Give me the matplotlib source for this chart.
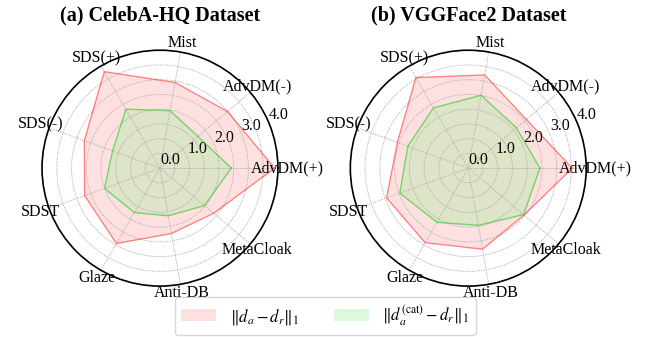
import numpy as np
import matplotlib
matplotlib.use('Agg')
import matplotlib.pyplot as plt

plt.rcParams['font.family'] = ['Liberation Serif', 'DejaVu Serif']
plt.rcParams['mathtext.fontset'] = 'stix'

#categories, counter-clockwise from 0 deg
labels = ['AdvDM(+)', 'AdvDM(-)', 'Mist', 'SDS(+)', 'SDS(-)', 'SDST', 'Glaze', 'Anti-DB', 'MetaCloak']

#(a) CelebA-HQ
celeba_full = [3.89, 2.99, 2.95, 3.78, 2.73, 2.72, 2.95, 2.25, 2.38]
celeba_cat = [2.42, 1.68, 1.98, 2.31, 1.71, 2.00, 1.74, 1.64, 1.97]

#(b) VGGFace2
vgg_full = [3.53, 2.57, 3.21, 3.55, 2.56, 2.95, 2.92, 2.79, 2.47]
vgg_cat = [2.43, 2.13, 2.51, 2.36, 2.18, 2.47, 2.12, 1.97, 2.45]

titles = ['(a) CelebA-HQ Dataset', '(b) VGGFace2 Dataset']
leg_labels = [r'$\|d_a - d_r\|_1$', r'$\|d_a^{(\mathrm{cat})} - d_r\|_1$']

r_ticks = np.arange(0, 4.01, 0.5)

angles = np.linspace(0, 2*np.pi, len(labels), endpoint=False)
ang_c = np.concatenate([angles, angles[:1]])

fig = plt.figure(figsize=(6.45, 3.37), dpi=100)
rects = [[0.065, 0.151, 0.366, 0.700], [0.543, 0.151, 0.366, 0.700]]
data = [(celeba_full, celeba_cat), (vgg_full, vgg_cat)]

for rect, title, (full, cat) in zip(rects, titles, data):
    ax = fig.add_axes(rect, projection='polar')
    f = np.concatenate([full, full[:1]])
    c = np.concatenate([cat, cat[:1]])
    ax.plot(ang_c, f, color='red', alpha=0.45, lw=1.0)
    h1 = ax.fill(ang_c, f, color='red', alpha=0.12, lw=0)[0]
    ax.plot(ang_c, c, color='limegreen', alpha=0.65, lw=1.0)
    h2 = ax.fill(ang_c, c, color='lightgreen', alpha=0.3, lw=0)[0]
    ax.set_xticks(angles)
    ax.set_xticklabels(labels, fontsize=11.5)
    ax.tick_params(axis='x', pad=-4)
    ax.set_ylim(0, 4.0)
    ax.set_yticks(r_ticks)
    ax.set_yticklabels(['%.1f' % t if t == int(t) else '' for t in r_ticks], fontsize=11.5)
    ax.set_rlabel_position(22.5)
    ax.grid(color='#b0b0b0', linestyle=(0, (1.2, 1.2)), linewidth=0.7)
    ax.spines['polar'].set_linewidth(1.2)
    cx = rect[0] + rect[2]/2
    fig.text(cx, 1 - 15/337, title, fontsize=14.5, fontweight='bold', ha='center', va='center')

fig.legend([h1, h2], leg_labels, loc='center', bbox_to_anchor=(0.504, 0.062), ncol=2,
           fontsize=12, handlelength=2.1, columnspacing=2.1, edgecolor='#cccccc')

plt.savefig('out.png', dpi=100)
